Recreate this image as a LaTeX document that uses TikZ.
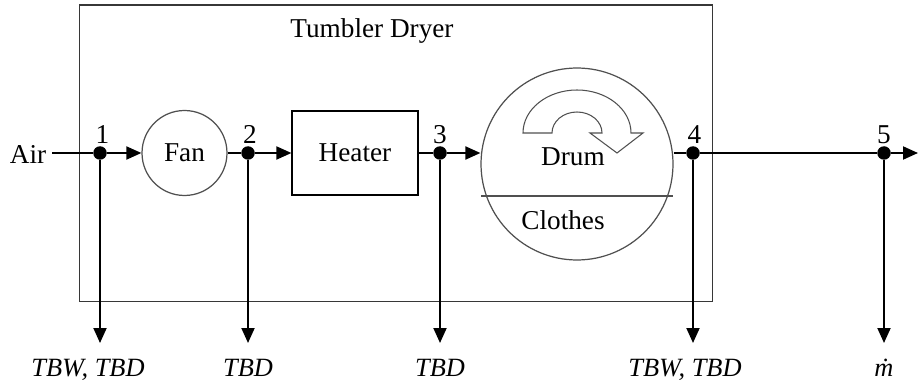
\documentclass[tikz,border=0pt]{standalone}
\usepackage{fontspec}
\setmainfont{Liberation Serif}
\usetikzlibrary{arrows.meta, positioning}
\definecolor{lineGray}{RGB}{80, 80, 80}
\definecolor{boxGray}{RGB}{55, 55, 55}

\begin{document}
\begin{tikzpicture}[
    x=0.02cm, y=-0.02cm,
    font=\fontsize{15.5}{18}\selectfont,
    flowLine/.style={line width=1.1pt, draw=black},
    flowArrow/.style={flowLine, -{Triangle[length=0.3cm, width=0.26cm]}},
    statePt/.style={circle, fill=black, inner sep=0pt, minimum size=0.27cm},
    ptLabel/.style={inner sep=0pt},
    unitCircle/.style={circle, draw=lineGray, line width=0.7pt, inner sep=0pt},
    unitBox/.style={rectangle, draw=black, line width=0.7pt, minimum width=2.52cm, minimum height=1.68cm},
    outLabel/.style={font=\fontsize{15}{18}\selectfont\itshape}
  ]
    \useasboundingbox (0,0) rectangle (919,388);

    % System boundary
    \node[draw=boxGray, line width=0.6pt, minimum width=12.68cm, minimum height=5.94cm, inner sep=0pt] (dryer) at (396,153.5) {};
    \node[anchor=base] (title) at (372,38) {Tumbler Dryer};

    % Components
    \node (air) at (28,154) {Air};
    \node[unitCircle, minimum size=1.7cm] (fan) at (184.5,153) {Fan};
    \node[unitBox] (heater) at (355,153) {Heater};
    \node[unitCircle, minimum size=3.84cm] (drum) at (577,164) {};
    \node (drumText) at (573,157) {Drum};
    \node (clothes) at (563,220) {Clothes};

    % State points
    \node[statePt] (p1) at (100,153) {};
    \node[statePt] (p2) at (248,153) {};
    \node[statePt] (p3) at (440,153) {};
    \node[statePt] (p4) at (693,153) {};
    \node[statePt] (p5) at (884,153) {};
    \node[ptLabel, above=1pt of p1, xshift=0.05cm] (l1) {1};
    \node[ptLabel, above=1pt of p2, xshift=0.04cm] (l2) {2};
    \node[ptLabel, above=1pt of p3] (l3) {3};
    \node[ptLabel, above=1pt of p4, xshift=0.03cm] (l4) {4};
    \node[ptLabel, above=1pt of p5] (l5) {5};
    \coordinate (out) at (918,153);

    % Rotation arrow inside the drum
    \draw[draw=lineGray, line width=0.6pt, fill=white] (523,133) arc[start angle=180, end angle=360, x radius=54, y radius=43]
      -- (643,133) -- (617,153) -- (590,133) -- (602,133)
      arc[start angle=0, end angle=-180, x radius=25, y radius=21] -- cycle;
    \draw[draw=lineGray, line width=0.7pt] ([shift={(-96,32)}]drum.center) -- ([shift={(96,32)}]drum.center);

    % Air path
    \draw[flowLine] (p1 -| air.east) -- (p1);
    \draw[flowArrow] (p1) -- (fan);
    \draw[flowLine] (fan) -- (p2);
    \draw[flowArrow] (p2) -- (heater);
    \draw[flowLine] (heater) -- (p3);
    \draw[flowArrow] (p3) -- (p3 -| drum.west);
    \draw[flowLine] (p4 -| drum.east) -- (p4) -- (p5);
    \draw[flowArrow] (p5) -- (out);

    % Measurements
    \coordinate (d1) at (100,343);
    \coordinate (d2) at (248,343);
    \coordinate (d3) at (440,343);
    \coordinate (d4) at (693,343);
    \coordinate (d5) at (884,343);
    \draw[flowArrow] (p1) -- (d1);
    \draw[flowArrow] (p2) -- (d2);
    \draw[flowArrow] (p3) -- (d3);
    \draw[flowArrow] (p4) -- (d4);
    \draw[flowArrow] (p5) -- (d5);
    \node[outLabel, below=0.2cm of d1, xshift=-0.24cm] (m1) {TBW, TBD};
    \node[outLabel, below=0.2cm of d2] (m2) {TBD};
    \node[outLabel, below=0.2cm of d3] (m3) {TBD};
    \node[outLabel, below=0.2cm of d4, xshift=-0.16cm] (m4) {TBW, TBD};
    \node[outLabel, below=0.2cm of d5] (m5) {ṁ};
  \end{tikzpicture}
\end{document}
